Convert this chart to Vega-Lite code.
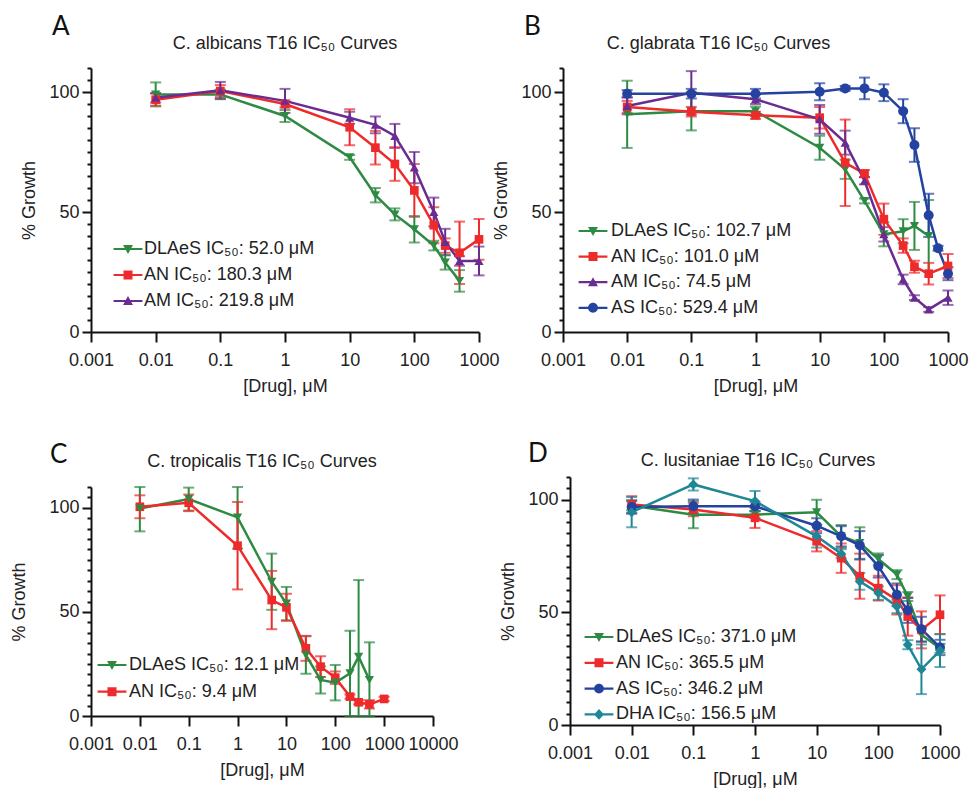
{
"$schema": "https://vega.github.io/schema/vega-lite/v6.json",
"background": "white",
"padding": {"left": 10, "top": 14, "right": 0, "bottom": 0},
"spacing": 46,
"resolve": {"scale": {"color": "independent", "shape": "independent"}, "legend": {"color": "independent", "shape": "independent"}},
"config": {
 "view": {"stroke": null},
 "font": "Liberation Sans",
 "axis": {"grid": false, "domainColor": "#111", "domainWidth": 2, "tickColor": "#111", "tickWidth": 2, "labelFontSize": 18, "labelColor": "#222", "labelFont": "Liberation Sans", "titleFontSize": 18, "titleFontWeight": "normal", "titleColor": "#222", "titleFont": "Liberation Sans", "labelOverlap": false},
 "axisX": {"tickSize": 10, "labelPadding": 9, "titlePadding": 8, "labelFlush": false},
 "axisY": {"labelPadding": 3, "titlePadding": 10},
 "title": {"fontSize": 18, "fontWeight": "normal", "color": "#222", "font": "Liberation Sans"}
},
"datasets": {
 "A": [
  {"drug":"DLAeS","x":0.01,"y":99,"lo":94,"hi":104},
  {"drug":"DLAeS","x":0.1,"y":99,"lo":97,"hi":101},
  {"drug":"DLAeS","x":1,"y":90,"lo":87.5,"hi":92.5},
  {"drug":"DLAeS","x":10,"y":72.8,"lo":71.8,"hi":73.8},
  {"drug":"DLAeS","x":25,"y":57,"lo":54,"hi":60},
  {"drug":"DLAeS","x":50,"y":49,"lo":46.5,"hi":51.5},
  {"drug":"DLAeS","x":100,"y":42.8,"lo":37.3,"hi":48.3},
  {"drug":"DLAeS","x":200,"y":36,"lo":34,"hi":38},
  {"drug":"DLAeS","x":300,"y":29,"lo":26,"hi":32},
  {"drug":"DLAeS","x":500,"y":21.3,"lo":16.8,"hi":25.8},
  {"drug":"AN","x":0.01,"y":96.8,"lo":94.3,"hi":99.3},
  {"drug":"AN","x":0.1,"y":100.4,"lo":97.9,"hi":102.9},
  {"drug":"AN","x":1,"y":95,"lo":93.5,"hi":96.5},
  {"drug":"AN","x":10,"y":85.3,"lo":77.8,"hi":92.8},
  {"drug":"AN","x":25,"y":76.8,"lo":69.8,"hi":83.8},
  {"drug":"AN","x":50,"y":70,"lo":63,"hi":77},
  {"drug":"AN","x":100,"y":59,"lo":48,"hi":70},
  {"drug":"AN","x":200,"y":44.5,"lo":37,"hi":52},
  {"drug":"AN","x":300,"y":36,"lo":33,"hi":39},
  {"drug":"AN","x":500,"y":33,"lo":20,"hi":46},
  {"drug":"AN","x":1000,"y":38.6,"lo":30.1,"hi":47.1},
  {"drug":"AM","x":0.01,"y":97.6,"lo":95.6,"hi":99.6},
  {"drug":"AM","x":0.1,"y":100.7,"lo":97.2,"hi":104.2},
  {"drug":"AM","x":1,"y":96.3,"lo":91.3,"hi":101.3},
  {"drug":"AM","x":10,"y":89.3,"lo":86.8,"hi":91.8},
  {"drug":"AM","x":25,"y":86.3,"lo":82.8,"hi":89.8},
  {"drug":"AM","x":50,"y":81.7,"lo":76.7,"hi":86.7},
  {"drug":"AM","x":100,"y":68.5,"lo":62,"hi":75},
  {"drug":"AM","x":200,"y":50,"lo":44,"hi":56},
  {"drug":"AM","x":300,"y":37.5,"lo":32,"hi":43},
  {"drug":"AM","x":500,"y":29.6,"lo":27.6,"hi":31.6},
  {"drug":"AM","x":1000,"y":29.6,"lo":23.6,"hi":35.6}
 ],
 "B": [
  {"drug":"DLAeS","x":0.01,"y":90.7,"lo":76.7,"hi":104.7},
  {"drug":"DLAeS","x":0.1,"y":92,"lo":84,"hi":100},
  {"drug":"DLAeS","x":1,"y":92,"lo":90,"hi":94},
  {"drug":"DLAeS","x":10,"y":76.8,"lo":71.8,"hi":81.8},
  {"drug":"DLAeS","x":25,"y":67.8,"lo":63.8,"hi":71.8},
  {"drug":"DLAeS","x":50,"y":54.6,"lo":53.6,"hi":55.6},
  {"drug":"DLAeS","x":100,"y":40.7,"lo":35.7,"hi":45.7},
  {"drug":"DLAeS","x":200,"y":42,"lo":37,"hi":47},
  {"drug":"DLAeS","x":300,"y":44.2,"lo":34.2,"hi":54.2},
  {"drug":"DLAeS","x":500,"y":40,"lo":25,"hi":55},
  {"drug":"AN","x":0.01,"y":93.8,"lo":91.3,"hi":96.3},
  {"drug":"AN","x":0.1,"y":91.8,"lo":89.8,"hi":93.8},
  {"drug":"AN","x":1,"y":90.3,"lo":88.8,"hi":91.8},
  {"drug":"AN","x":10,"y":89.3,"lo":84.8,"hi":93.8},
  {"drug":"AN","x":25,"y":70.5,"lo":52.5,"hi":88.5},
  {"drug":"AN","x":50,"y":66,"lo":64.5,"hi":67.5},
  {"drug":"AN","x":100,"y":47,"lo":40.5,"hi":53.5},
  {"drug":"AN","x":200,"y":36,"lo":33,"hi":39},
  {"drug":"AN","x":300,"y":27.2,"lo":24.7,"hi":29.7},
  {"drug":"AN","x":500,"y":24.3,"lo":19.8,"hi":28.8},
  {"drug":"AN","x":1000,"y":27.5,"lo":22.5,"hi":32.5},
  {"drug":"AM","x":0.01,"y":94.2,"lo":90.7,"hi":97.7},
  {"drug":"AM","x":0.1,"y":99.7,"lo":90.7,"hi":108.7},
  {"drug":"AM","x":1,"y":97,"lo":95,"hi":99},
  {"drug":"AM","x":10,"y":88.6,"lo":82.6,"hi":94.6},
  {"drug":"AM","x":25,"y":78.9,"lo":73.9,"hi":83.9},
  {"drug":"AM","x":50,"y":63,"lo":61.5,"hi":64.5},
  {"drug":"AM","x":100,"y":40.7,"lo":37.7,"hi":43.7},
  {"drug":"AM","x":200,"y":21.9,"lo":19.9,"hi":23.9},
  {"drug":"AM","x":300,"y":14.3,"lo":13.3,"hi":15.3},
  {"drug":"AM","x":500,"y":9.4,"lo":8.4,"hi":10.4},
  {"drug":"AM","x":1000,"y":14.3,"lo":11.3,"hi":17.3},
  {"drug":"AS","x":0.01,"y":99.3,"lo":97.8,"hi":100.8},
  {"drug":"AS","x":0.1,"y":99.3,"lo":97.3,"hi":101.3},
  {"drug":"AS","x":1,"y":99.3,"lo":97.3,"hi":101.3},
  {"drug":"AS","x":10,"y":100.1,"lo":96.6,"hi":103.6},
  {"drug":"AS","x":25,"y":101.5,"lo":100.5,"hi":102.5},
  {"drug":"AS","x":50,"y":101.5,"lo":97,"hi":106},
  {"drug":"AS","x":100,"y":99.7,"lo":96.2,"hi":103.2},
  {"drug":"AS","x":200,"y":92,"lo":87,"hi":97},
  {"drug":"AS","x":300,"y":77.9,"lo":70.9,"hi":84.9},
  {"drug":"AS","x":500,"y":48.6,"lo":39.6,"hi":57.6},
  {"drug":"AS","x":700,"y":34.9,"lo":33.9,"hi":35.9},
  {"drug":"AS","x":1000,"y":24.3,"lo":21.6,"hi":27}
 ],
 "C": [
  {"drug":"DLAeS","x":0.01,"y":99.7,"lo":88.7,"hi":110},
  {"drug":"DLAeS","x":0.1,"y":104.2,"lo":98.7,"hi":109.7},
  {"drug":"DLAeS","x":1,"y":95.4,"lo":80.4,"hi":110},
  {"drug":"DLAeS","x":5,"y":64.5,"lo":51,"hi":78},
  {"drug":"DLAeS","x":10,"y":54,"lo":46,"hi":62},
  {"drug":"DLAeS","x":25,"y":29.3,"lo":20.3,"hi":38.3},
  {"drug":"DLAeS","x":50,"y":17.3,"lo":10.8,"hi":23.8},
  {"drug":"DLAeS","x":100,"y":16,"lo":7.5,"hi":24.5},
  {"drug":"DLAeS","x":200,"y":20.5,"lo":0,"hi":41},
  {"drug":"DLAeS","x":300,"y":28.5,"lo":0,"hi":65.3},
  {"drug":"DLAeS","x":500,"y":17.3,"lo":0,"hi":35.4},
  {"drug":"AN","x":0.01,"y":100.5,"lo":95,"hi":106},
  {"drug":"AN","x":0.1,"y":102.4,"lo":98.4,"hi":106.4},
  {"drug":"AN","x":1,"y":81.8,"lo":60.8,"hi":102.8},
  {"drug":"AN","x":5,"y":55.7,"lo":41.7,"hi":69.7},
  {"drug":"AN","x":10,"y":52.2,"lo":45.7,"hi":58.7},
  {"drug":"AN","x":25,"y":32.5,"lo":26.5,"hi":38.5},
  {"drug":"AN","x":50,"y":23.7,"lo":18.7,"hi":28.7},
  {"drug":"AN","x":100,"y":18.4,"lo":15.4,"hi":21.4},
  {"drug":"AN","x":200,"y":9.3,"lo":8.3,"hi":10.3},
  {"drug":"AN","x":300,"y":6.6,"lo":5.6,"hi":7.6},
  {"drug":"AN","x":500,"y":5.6,"lo":3.6,"hi":7.6},
  {"drug":"AN","x":1000,"y":8.2,"lo":7.2,"hi":9.2}
 ],
 "D": [
  {"drug":"DLAeS","x":0.01,"y":97.3,"lo":95.3,"hi":99.3},
  {"drug":"DLAeS","x":0.1,"y":93.3,"lo":87.3,"hi":99.3},
  {"drug":"DLAeS","x":1,"y":93.3,"lo":91.8,"hi":94.8},
  {"drug":"DLAeS","x":10,"y":94.4,"lo":88.9,"hi":99.9},
  {"drug":"DLAeS","x":25,"y":83.7,"lo":78.7,"hi":88.7},
  {"drug":"DLAeS","x":50,"y":80.7,"lo":73.7,"hi":87.7},
  {"drug":"DLAeS","x":100,"y":73.6,"lo":71.1,"hi":76.1},
  {"drug":"DLAeS","x":200,"y":66.7,"lo":64.7,"hi":68.7},
  {"drug":"DLAeS","x":300,"y":57,"lo":55,"hi":59},
  {"drug":"DLAeS","x":500,"y":40,"lo":37,"hi":43},
  {"drug":"DLAeS","x":1000,"y":34,"lo":32,"hi":36},
  {"drug":"AN","x":0.01,"y":97.8,"lo":94.1,"hi":101.5},
  {"drug":"AN","x":0.1,"y":95.6,"lo":92.6,"hi":98.6},
  {"drug":"AN","x":1,"y":91.9,"lo":87.4,"hi":96.4},
  {"drug":"AN","x":10,"y":81.5,"lo":77,"hi":86},
  {"drug":"AN","x":25,"y":74,"lo":67.5,"hi":80.5},
  {"drug":"AN","x":50,"y":66,"lo":56,"hi":76},
  {"drug":"AN","x":100,"y":60.7,"lo":55.2,"hi":66.2},
  {"drug":"AN","x":200,"y":55.5,"lo":49,"hi":62},
  {"drug":"AN","x":300,"y":48.1,"lo":39.6,"hi":56.6},
  {"drug":"AN","x":500,"y":42.2,"lo":34,"hi":50.4},
  {"drug":"AN","x":1000,"y":48.9,"lo":40.3,"hi":57.5},
  {"drug":"AS","x":0.01,"y":96.7,"lo":93.7,"hi":99.7},
  {"drug":"AS","x":0.1,"y":97,"lo":94,"hi":100},
  {"drug":"AS","x":1,"y":97,"lo":95,"hi":99},
  {"drug":"AS","x":10,"y":88.4,"lo":85.1,"hi":91.7},
  {"drug":"AS","x":25,"y":83.7,"lo":79.2,"hi":88.2},
  {"drug":"AS","x":50,"y":79.7,"lo":73.4,"hi":86},
  {"drug":"AS","x":100,"y":70.4,"lo":65.4,"hi":75.4},
  {"drug":"AS","x":200,"y":57.8,"lo":52.8,"hi":62.8},
  {"drug":"AS","x":300,"y":50.8,"lo":45.3,"hi":56.3},
  {"drug":"AS","x":500,"y":42.5,"lo":37,"hi":48},
  {"drug":"AS","x":1000,"y":34.4,"lo":31,"hi":37.8},
  {"drug":"DHA","x":0.01,"y":94.4,"lo":87.7,"hi":101.1},
  {"drug":"DHA","x":0.1,"y":106.7,"lo":104,"hi":109.4},
  {"drug":"DHA","x":1,"y":99.3,"lo":94.8,"hi":103.8},
  {"drug":"DHA","x":10,"y":83.7,"lo":78.7,"hi":88.7},
  {"drug":"DHA","x":25,"y":76,"lo":74,"hi":78},
  {"drug":"DHA","x":50,"y":63.7,"lo":60,"hi":67.4},
  {"drug":"DHA","x":100,"y":58.5,"lo":55.5,"hi":61.5},
  {"drug":"DHA","x":200,"y":52.6,"lo":49.6,"hi":55.6},
  {"drug":"DHA","x":300,"y":35.6,"lo":33.6,"hi":37.6},
  {"drug":"DHA","x":500,"y":24.7,"lo":13.7,"hi":35.7},
  {"drug":"DHA","x":1000,"y":33,"lo":25.7,"hi":40.3}
 ]
},
"vconcat": [
 {"spacing": -8,
  "resolve": {"scale": {"color": "independent", "shape": "independent"}, "legend": {"color": "independent", "shape": "independent"}},
  "hconcat": [
  {"title": {"text": "A", "anchor": "start", "frame": "bounds", "fontSize": 26, "font": "Lato", "color": "#111", "dx": 31, "offset": -5},
   "resolve": {"scale": {"color": "independent", "shape": "independent"}, "legend": {"color": "independent", "shape": "independent"}},
   "vconcat": [{
    "width": 388, "height": 264,
    "title": {"text": "C. albicans T16 IC₅₀ Curves", "anchor": "middle", "frame": "group", "offset": 6},
    "data": {"name": "A"},
    "encoding": {
     "x": {"field": "x", "type": "quantitative", "scale": {"type": "log", "domain": [0.001, 1000]}, "axis": {"values": [0.001,0.01,0.1,1,10,100,1000], "format": "~g", "title": "[Drug], μM"}},
     "y": {"field": "y", "type": "quantitative", "scale": {"domain": [0, 110], "nice": false}, "axis": {"values": [0,5,10,15,20,25,30,35,40,45,50,55,60,65,70,75,80,85,90,95,100,105,110], "labelExpr": "datum.value % 50 === 0 ? datum.label : ''", "tickSize": {"condition": {"test": "datum.value % 50 === 0", "value": 9}, "value": 4}, "title": "% Growth"}},
     "color": {"field": "drug", "type": "nominal", "scale": {"domain": ["DLAeS","AN","AM"], "range": ["#2d8a43","#ee2a2a","#6b2c91"]}, "legend": null}
    },
    "layer": [
     {"transform": [{"filter": "datum.x < 0"}], "mark": {"type": "point", "filled": true, "opacity": 1, "size": 324},
      "encoding": {
       "color": {"field": "drug", "type": "nominal", "scale": {"domain": ["DLAeS","AN","AM"], "range": ["#2d8a43","#ee2a2a","#6b2c91"]}, "legend": {"title": null, "orient": "none", "legendX": 28, "legendY": 172, "direction": "vertical", "labelExpr": "datum.label === 'DLAeS' ? 'DLAeS IC₅₀: 52.0 μM' : datum.label === 'AN' ? 'AN IC₅₀: 180.3 μM' : 'AM IC₅₀: 219.8 μM'", "labelFontSize": 18, "labelColor": "#222", "labelLimit": 400, "symbolSize": 324, "labelOffset": 7, "rowPadding": 8, "padding": 0, "symbolStrokeWidth": 0, "symbolOpacity": 1}},
       "shape": {"field": "drug", "type": "nominal", "scale": {"domain": ["DLAeS","AN","AM"], "range": ["M-1.6,-0.12H1.6V0.12H-1.6ZM-0.55,-0.45L0.55,-0.45L0,0.55Z","M-1.6,-0.12H1.6V0.12H-1.6ZM-0.5,-0.5H0.5V0.5H-0.5Z","M-1.6,-0.12H1.6V0.12H-1.6ZM0,-0.55L0.55,0.45L-0.55,0.45Z"]}, "legend": {"title": null, "orient": "none", "legendX": 28, "legendY": 172, "direction": "vertical", "labelExpr": "datum.label === 'DLAeS' ? 'DLAeS IC₅₀: 52.0 μM' : datum.label === 'AN' ? 'AN IC₅₀: 180.3 μM' : 'AM IC₅₀: 219.8 μM'", "labelFontSize": 18, "labelColor": "#222", "labelLimit": 400, "symbolSize": 324, "labelOffset": 7, "rowPadding": 8, "padding": 0, "symbolStrokeWidth": 0, "symbolOpacity": 1}}
      }},
     {"mark": {"type": "errorbar", "ticks": {"size": 11}, "thickness": 2}, "encoding": {"y": {"field": "lo", "type": "quantitative", "scale": {"domain": [0, 110], "nice": false}, "axis": {"values": [0,5,10,15,20,25,30,35,40,45,50,55,60,65,70,75,80,85,90,95,100,105,110], "labelExpr": "datum.value % 50 === 0 ? datum.label : ''", "tickSize": {"condition": {"test": "datum.value % 50 === 0", "value": 9}, "value": 4}, "title": "% Growth"}}, "y2": {"field": "hi"}}},
     {"mark": {"type": "line", "strokeWidth": 2.5}, "encoding": {}},
     {"transform": [{"filter": "datum.drug === 'DLAeS'"}], "mark": {"type": "point", "shape": "triangle-down", "filled": true, "opacity": 1, "size": 85}, "encoding": {}},
     {"transform": [{"filter": "datum.drug === 'AN'"}], "mark": {"type": "point", "shape": "square", "filled": true, "opacity": 1, "size": 75}, "encoding": {}},
     {"transform": [{"filter": "datum.drug === 'AM'"}], "mark": {"type": "point", "shape": "triangle-up", "filled": true, "opacity": 1, "size": 85}, "encoding": {}}
    ]
   }]
  },
  {"title": {"text": "B", "anchor": "start", "frame": "bounds", "fontSize": 26, "font": "Lato", "color": "#111", "dx": 31, "offset": -5},
   "resolve": {"scale": {"color": "independent", "shape": "independent"}, "legend": {"color": "independent", "shape": "independent"}},
   "vconcat": [{
    "width": 385, "height": 264,
    "title": {"text": "C. glabrata T16 IC₅₀ Curves", "anchor": "middle", "frame": "group", "offset": 6, "dx": -37},
    "data": {"name": "B"},
    "encoding": {
     "x": {"field": "x", "type": "quantitative", "scale": {"type": "log", "domain": [0.001, 1000]}, "axis": {"values": [0.001,0.01,0.1,1,10,100,1000], "format": "~g", "title": "[Drug], μM"}},
     "y": {"field": "y", "type": "quantitative", "scale": {"domain": [0, 110], "nice": false}, "axis": {"values": [0,5,10,15,20,25,30,35,40,45,50,55,60,65,70,75,80,85,90,95,100,105,110], "labelExpr": "datum.value % 50 === 0 ? datum.label : ''", "tickSize": {"condition": {"test": "datum.value % 50 === 0", "value": 9}, "value": 4}, "title": "% Growth"}},
     "color": {"field": "drug", "type": "nominal", "scale": {"domain": ["DLAeS","AN","AM","AS"], "range": ["#2d8a43","#ee2a2a","#6b2c91","#2442a0"]}, "legend": null}
    },
    "layer": [
     {"transform": [{"filter": "datum.x < 0"}], "mark": {"type": "point", "filled": true, "opacity": 1, "size": 324},
      "encoding": {
       "color": {"field": "drug", "type": "nominal", "scale": {"domain": ["DLAeS","AN","AM","AS"], "range": ["#2d8a43","#ee2a2a","#6b2c91","#2442a0"]}, "legend": {"title": null, "orient": "none", "legendX": 21, "legendY": 154, "direction": "vertical", "labelExpr": "datum.label === 'DLAeS' ? 'DLAeS IC₅₀: 102.7 μM' : datum.label === 'AN' ? 'AN IC₅₀: 101.0 μM' : datum.label === 'AM' ? 'AM IC₅₀: 74.5 μM' : 'AS IC₅₀: 529.4 μM'", "labelFontSize": 18, "labelColor": "#222", "labelLimit": 400, "symbolSize": 324, "labelOffset": 9, "rowPadding": 7.6, "padding": 0, "symbolStrokeWidth": 0, "symbolOpacity": 1}},
       "shape": {"field": "drug", "type": "nominal", "scale": {"domain": ["DLAeS","AN","AM","AS"], "range": ["M-1.6,-0.12H1.6V0.12H-1.6ZM-0.55,-0.45L0.55,-0.45L0,0.55Z","M-1.6,-0.12H1.6V0.12H-1.6ZM-0.5,-0.5H0.5V0.5H-0.5Z","M-1.6,-0.12H1.6V0.12H-1.6ZM0,-0.55L0.55,0.45L-0.55,0.45Z","M-1.6,-0.12H1.6V0.12H-1.6ZM-0.55,0A0.55,0.55,0,1,1,0.55,0A0.55,0.55,0,1,1,-0.55,0Z"]}, "legend": {"title": null, "orient": "none", "legendX": 21, "legendY": 154, "direction": "vertical", "labelExpr": "datum.label === 'DLAeS' ? 'DLAeS IC₅₀: 102.7 μM' : datum.label === 'AN' ? 'AN IC₅₀: 101.0 μM' : datum.label === 'AM' ? 'AM IC₅₀: 74.5 μM' : 'AS IC₅₀: 529.4 μM'", "labelFontSize": 18, "labelColor": "#222", "labelLimit": 400, "symbolSize": 324, "labelOffset": 9, "rowPadding": 7.6, "padding": 0, "symbolStrokeWidth": 0, "symbolOpacity": 1}}
      }},
     {"mark": {"type": "errorbar", "ticks": {"size": 11}, "thickness": 2}, "encoding": {"y": {"field": "lo", "type": "quantitative", "scale": {"domain": [0, 110], "nice": false}, "axis": {"values": [0,5,10,15,20,25,30,35,40,45,50,55,60,65,70,75,80,85,90,95,100,105,110], "labelExpr": "datum.value % 50 === 0 ? datum.label : ''", "tickSize": {"condition": {"test": "datum.value % 50 === 0", "value": 9}, "value": 4}, "title": "% Growth"}}, "y2": {"field": "hi"}}},
     {"mark": {"type": "line", "strokeWidth": 2.5}, "encoding": {}},
     {"transform": [{"filter": "datum.drug === 'DLAeS'"}], "mark": {"type": "point", "shape": "triangle-down", "filled": true, "opacity": 1, "size": 85}, "encoding": {}},
     {"transform": [{"filter": "datum.drug === 'AN'"}], "mark": {"type": "point", "shape": "square", "filled": true, "opacity": 1, "size": 75}, "encoding": {}},
     {"transform": [{"filter": "datum.drug === 'AM'"}], "mark": {"type": "point", "shape": "triangle-up", "filled": true, "opacity": 1, "size": 85}, "encoding": {}},
     {"transform": [{"filter": "datum.drug === 'AS'"}], "mark": {"type": "point", "shape": "circle", "filled": true, "opacity": 1, "size": 100}, "encoding": {}}
    ]
   }]
  }
 ]},
 {"spacing": 40,
  "resolve": {"scale": {"color": "independent", "shape": "independent"}, "legend": {"color": "independent", "shape": "independent"}},
  "hconcat": [
  {"title": {"text": "C", "anchor": "start", "frame": "bounds", "fontSize": 26, "font": "Lato", "color": "#111", "dx": 39, "offset": -15},
   "resolve": {"scale": {"color": "independent", "shape": "independent"}, "legend": {"color": "independent", "shape": "independent"}},
   "vconcat": [{
    "width": 342, "height": 239,
    "title": {"text": "C. tropicalis T16 IC₅₀ Curves", "anchor": "middle", "frame": "group", "offset": 6},
    "data": {"name": "C"},
    "encoding": {
     "x": {"field": "x", "type": "quantitative", "scale": {"type": "log", "domain": [0.001, 10000]}, "axis": {"values": [0.001,0.01,0.1,1,10,100,1000,10000], "format": "~g", "title": "[Drug], μM"}},
     "y": {"field": "y", "type": "quantitative", "scale": {"domain": [0, 110], "nice": false, "range": [239, 10]}, "axis": {"values": [0,5,10,15,20,25,30,35,40,45,50,55,60,65,70,75,80,85,90,95,100,105,110], "labelExpr": "datum.value % 50 === 0 ? datum.label : ''", "tickSize": {"condition": {"test": "datum.value % 50 === 0", "value": 9}, "value": 4}, "title": "% Growth", "titlePadding": 20}},
     "color": {"field": "drug", "type": "nominal", "scale": {"domain": ["DLAeS","AN"], "range": ["#2d8a43","#ee2a2a"]}, "legend": null}
    },
    "layer": [
     {"transform": [{"filter": "datum.x < 0"}], "mark": {"type": "point", "filled": true, "opacity": 1, "size": 324},
      "encoding": {
       "color": {"field": "drug", "type": "nominal", "scale": {"domain": ["DLAeS","AN"], "range": ["#2d8a43","#ee2a2a"]}, "legend": {"title": null, "orient": "none", "legendX": 12, "legendY": 179, "direction": "vertical", "labelExpr": "datum.label === 'DLAeS' ? 'DLAeS IC₅₀: 12.1 μM' : 'AN IC₅₀: 9.4 μM'", "labelFontSize": 18, "labelColor": "#222", "labelLimit": 400, "symbolSize": 324, "labelOffset": 8, "rowPadding": 8.7, "padding": 0, "symbolStrokeWidth": 0, "symbolOpacity": 1}},
       "shape": {"field": "drug", "type": "nominal", "scale": {"domain": ["DLAeS","AN"], "range": ["M-1.6,-0.12H1.6V0.12H-1.6ZM-0.55,-0.45L0.55,-0.45L0,0.55Z","M-1.6,-0.12H1.6V0.12H-1.6ZM-0.5,-0.5H0.5V0.5H-0.5Z"]}, "legend": {"title": null, "orient": "none", "legendX": 12, "legendY": 179, "direction": "vertical", "labelExpr": "datum.label === 'DLAeS' ? 'DLAeS IC₅₀: 12.1 μM' : 'AN IC₅₀: 9.4 μM'", "labelFontSize": 18, "labelColor": "#222", "labelLimit": 400, "symbolSize": 324, "labelOffset": 8, "rowPadding": 8.7, "padding": 0, "symbolStrokeWidth": 0, "symbolOpacity": 1}}
      }},
     {"mark": {"type": "errorbar", "ticks": {"size": 11}, "thickness": 2}, "encoding": {"y": {"field": "lo", "type": "quantitative", "scale": {"domain": [0, 110], "nice": false, "range": [239, 10]}, "axis": {"values": [0,5,10,15,20,25,30,35,40,45,50,55,60,65,70,75,80,85,90,95,100,105,110], "labelExpr": "datum.value % 50 === 0 ? datum.label : ''", "tickSize": {"condition": {"test": "datum.value % 50 === 0", "value": 9}, "value": 4}, "title": "% Growth", "titlePadding": 20}}, "y2": {"field": "hi"}}},
     {"mark": {"type": "line", "strokeWidth": 2.5}, "encoding": {}},
     {"transform": [{"filter": "datum.drug === 'AN'"}], "mark": {"type": "point", "shape": "square", "filled": true, "opacity": 1, "size": 75}, "encoding": {}},
     {"transform": [{"filter": "datum.drug === 'DLAeS'"}], "mark": {"type": "point", "shape": "triangle-down", "filled": true, "opacity": 1, "size": 85}, "encoding": {}}
    ]
   }]
  },
  {"title": {"text": "D", "anchor": "start", "frame": "bounds", "fontSize": 26, "font": "Lato", "color": "#111", "dx": 28, "offset": -15},
   "resolve": {"scale": {"color": "independent", "shape": "independent"}, "legend": {"color": "independent", "shape": "independent"}},
   "vconcat": [{
    "width": 370, "height": 248,
    "title": {"text": "C. lusitaniae T16 IC₅₀ Curves", "anchor": "middle", "frame": "group", "offset": -2, "dx": 3},
    "data": {"name": "D"},
    "encoding": {
     "x": {"field": "x", "type": "quantitative", "scale": {"type": "log", "domain": [0.001, 1000]}, "axis": {"values": [0.001,0.01,0.1,1,10,100,1000], "format": "~g", "title": "[Drug], μM"}},
     "y": {"field": "y", "type": "quantitative", "scale": {"domain": [0, 110], "nice": false}, "axis": {"values": [0,5,10,15,20,25,30,35,40,45,50,55,60,65,70,75,80,85,90,95,100,105,110], "labelExpr": "datum.value % 50 === 0 ? datum.label : ''", "tickSize": {"condition": {"test": "datum.value % 50 === 0", "value": 9}, "value": 4}, "title": "% Growth"}},
     "color": {"field": "drug", "type": "nominal", "scale": {"domain": ["DLAeS","AN","AS","DHA"], "range": ["#2d8a43","#ee2a2a","#2442a0","#1e8796"]}, "legend": null}
    },
    "layer": [
     {"transform": [{"filter": "datum.x < 0"}], "mark": {"type": "point", "filled": true, "opacity": 1, "size": 324},
      "encoding": {
       "color": {"field": "drug", "type": "nominal", "scale": {"domain": ["DLAeS","AN","AS","DHA"], "range": ["#2d8a43","#ee2a2a","#2442a0","#1e8796"]}, "legend": {"title": null, "orient": "none", "legendX": 20, "legendY": 151, "direction": "vertical", "labelExpr": "datum.label === 'DLAeS' ? 'DLAeS IC₅₀: 371.0 μM' : datum.label === 'AN' ? 'AN IC₅₀: 365.5 μM' : datum.label === 'AS' ? 'AS IC₅₀: 346.2 μM' : 'DHA IC₅₀: 156.5 μM'", "labelFontSize": 18, "labelColor": "#222", "labelLimit": 400, "symbolSize": 324, "labelOffset": 8, "rowPadding": 7.8, "padding": 0, "symbolStrokeWidth": 0, "symbolOpacity": 1}},
       "shape": {"field": "drug", "type": "nominal", "scale": {"domain": ["DLAeS","AN","AS","DHA"], "range": ["M-1.6,-0.12H1.6V0.12H-1.6ZM-0.55,-0.45L0.55,-0.45L0,0.55Z","M-1.6,-0.12H1.6V0.12H-1.6ZM-0.5,-0.5H0.5V0.5H-0.5Z","M-1.6,-0.12H1.6V0.12H-1.6ZM-0.55,0A0.55,0.55,0,1,1,0.55,0A0.55,0.55,0,1,1,-0.55,0Z","M-1.6,-0.12H1.6V0.12H-1.6ZM0,-0.6L0.55,0L0,0.6L-0.55,0Z"]}, "legend": {"title": null, "orient": "none", "legendX": 20, "legendY": 151, "direction": "vertical", "labelExpr": "datum.label === 'DLAeS' ? 'DLAeS IC₅₀: 371.0 μM' : datum.label === 'AN' ? 'AN IC₅₀: 365.5 μM' : datum.label === 'AS' ? 'AS IC₅₀: 346.2 μM' : 'DHA IC₅₀: 156.5 μM'", "labelFontSize": 18, "labelColor": "#222", "labelLimit": 400, "symbolSize": 324, "labelOffset": 8, "rowPadding": 7.8, "padding": 0, "symbolStrokeWidth": 0, "symbolOpacity": 1}}
      }},
     {"mark": {"type": "errorbar", "ticks": {"size": 11}, "thickness": 2}, "encoding": {"y": {"field": "lo", "type": "quantitative", "scale": {"domain": [0, 110], "nice": false}, "axis": {"values": [0,5,10,15,20,25,30,35,40,45,50,55,60,65,70,75,80,85,90,95,100,105,110], "labelExpr": "datum.value % 50 === 0 ? datum.label : ''", "tickSize": {"condition": {"test": "datum.value % 50 === 0", "value": 9}, "value": 4}, "title": "% Growth"}}, "y2": {"field": "hi"}}},
     {"mark": {"type": "line", "strokeWidth": 2.5}, "encoding": {}},
     {"transform": [{"filter": "datum.drug === 'DLAeS'"}], "mark": {"type": "point", "shape": "triangle-down", "filled": true, "opacity": 1, "size": 85}, "encoding": {}},
     {"transform": [{"filter": "datum.drug === 'AN'"}], "mark": {"type": "point", "shape": "square", "filled": true, "opacity": 1, "size": 75}, "encoding": {}},
     {"transform": [{"filter": "datum.drug === 'AS'"}], "mark": {"type": "point", "shape": "circle", "filled": true, "opacity": 1, "size": 100}, "encoding": {}},
     {"transform": [{"filter": "datum.drug === 'DHA'"}], "mark": {"type": "point", "shape": "diamond", "filled": true, "opacity": 1, "size": 100}, "encoding": {}}
    ]
   }]
  }
 ]}
]
}
